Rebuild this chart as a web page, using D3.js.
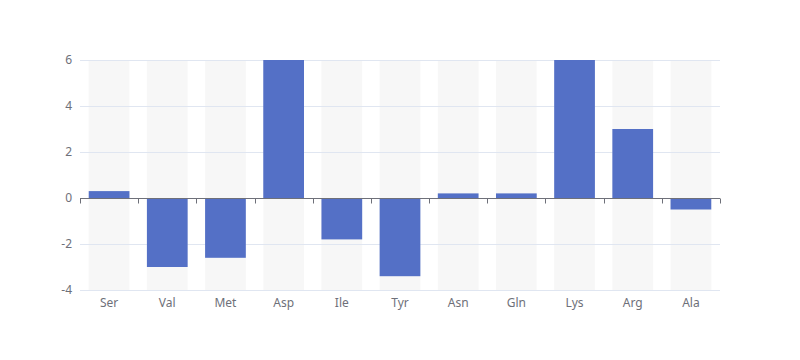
<!DOCTYPE html>
<html><head><meta charset="utf-8">
<script src="https://cdn.jsdelivr.net/npm/d3@7"></script>
<style>html,body{margin:0;padding:0;background:#fff}svg{display:block}</style>
</head><body>
<svg id="c" width="800" height="360"></svg>
<script>
const categories = ["Ser","Val","Met","Asp","Ile","Tyr","Asn","Gln","Lys","Arg","Ala"];
const values = [0.3,-3,-2.6,6,-1.8,-3.4,0.2,0.2,6,3,-0.5];
const yTicks = [-4,-2,0,2,4,6];

const svg = d3.select("#c");
const L=80,R=720,T=60,B=290;
const x = d3.scaleBand().domain(categories).range([L,R]).paddingInner(0).paddingOuter(0);
const y = d3.scaleLinear().domain([-4,6]).range([B,T]);
const font = "'Microsoft YaHei', 'Noto Sans', sans-serif";
const bw = x.bandwidth()*0.7;
const off = (x.bandwidth()-bw)/2;

// background shadows
svg.append("g").selectAll("rect").data(categories).join("rect")
  .attr("x",d=>x(d)+off).attr("y",T).attr("width",bw).attr("height",B-T)
  .attr("fill","rgba(180,180,180,0.1)");

// grid
svg.append("g").selectAll("line").data(yTicks).join("line")
  .attr("x1",L).attr("x2",R).attr("y1",d=>Math.round(y(d))+0.5).attr("y2",d=>Math.round(y(d))+0.5)
  .attr("stroke","#E0E6F1").attr("stroke-width",1);

// y labels
svg.append("g").selectAll("text").data(yTicks).join("text")
  .attr("x",L-8).attr("y",d=>y(d)).attr("dy","0.35em").attr("text-anchor","end")
  .attr("font-family",font).attr("font-size",12).attr("fill","#6E7079").text(d=>d);

// bars
svg.append("g").selectAll("rect").data(categories).join("rect")
  .attr("x",d=>x(d)+off).attr("width",bw)
  .attr("y",(d,i)=>y(Math.max(0,values[i])))
  .attr("height",(d,i)=>Math.abs(y(values[i])-y(0)))
  .attr("fill","#5470C6");

// x axis line at zero
const y0 = Math.round(y(0))+0.5;
svg.append("line").attr("x1",L).attr("x2",R).attr("y1",y0).attr("y2",y0)
  .attr("stroke","#6E7079").attr("stroke-width",1);
const tickPos = categories.map(d=>x(d)).concat([R]);
svg.append("g").selectAll("line").data(tickPos).join("line")
  .attr("x1",d=>Math.round(d)+0.5).attr("x2",d=>Math.round(d)+0.5).attr("y1",y0).attr("y2",y0+5)
  .attr("stroke","#6E7079").attr("stroke-width",1);

// x labels
svg.append("g").selectAll("text").data(categories).join("text")
  .attr("x",d=>x(d)+x.bandwidth()/2).attr("y",B+8).attr("dy","0.71em").attr("text-anchor","middle")
  .attr("font-family",font).attr("font-size",12).attr("fill","#6E7079").text(d=>d);
</script>
</body></html>
